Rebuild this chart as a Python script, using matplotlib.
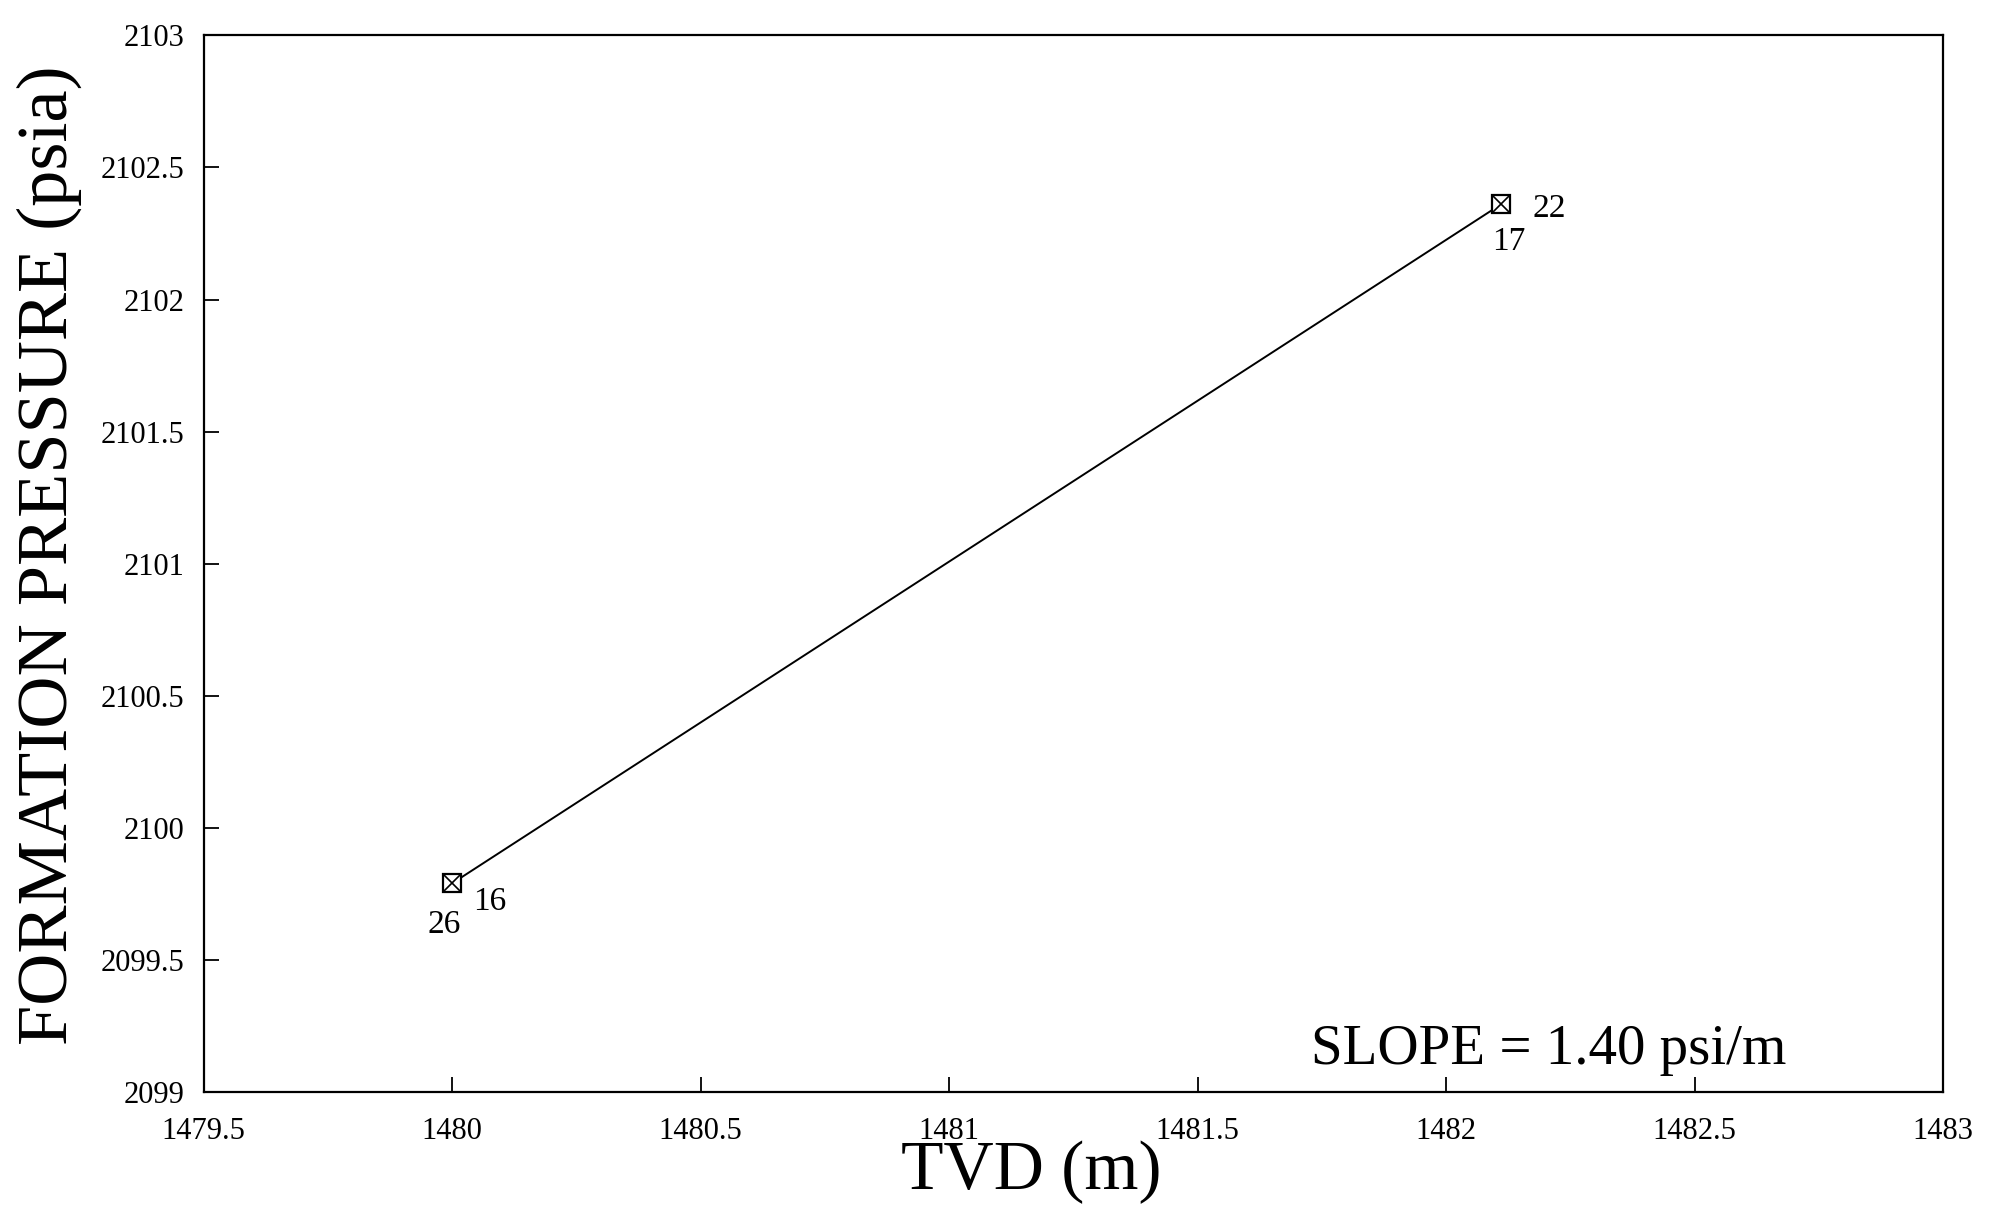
import matplotlib
matplotlib.use("Agg")
import matplotlib.pyplot as plt

# Data
tvd = [1480.0, 1482.11]
pressure = [2099.79, 2102.36]
xticks = [1479.5, 1480, 1480.5, 1481, 1481.5, 1482, 1482.5, 1483]
yticks = [2099, 2099.5, 2100, 2100.5, 2101, 2101.5, 2102, 2102.5, 2103]
xtick_labels = ['1479.5', '1480', '1480.5', '1481', '1481.5', '1482', '1482.5', '1483']
ytick_labels = ['2099', '2099.5', '2100', '2100.5', '2101', '2101.5', '2102', '2102.5', '2103']
# point labels: (text, point index, offset in points)
point_labels = [('16', 0, (27, -13)), ('26', 0, (-6, -30)),
                ('22', 1, (35, -3)), ('17', 1, (6, -27))]

plt.rcParams['font.family'] = ['Liberation Serif', 'DejaVu Serif']

fig = plt.figure(figsize=(19.98, 12.13), dpi=100)
ax = fig.add_axes([0.102, 0.0998, 0.8705, 0.871])

ax.plot(tvd, pressure, color='black', lw=1.4)
ax.plot(tvd, pressure, ls='none', marker='s', ms=13, mfc='white', mec='black', mew=1.6)
ax.plot(tvd, pressure, ls='none', marker='x', ms=11, mec='black', mew=1.2)

for txt, i, off in point_labels:
    ax.annotate(txt, (tvd[i], pressure[i]), xytext=off, textcoords='offset points',
                ha='center', va='center', fontsize=24)

ax.set_xlim(1479.5, 1483)
ax.set_ylim(2099, 2103)
ax.set_xticks(xticks)
ax.set_xticklabels(xtick_labels)
ax.set_yticks(yticks)
ax.set_yticklabels(ytick_labels)
ax.tick_params(direction='in', length=11, width=1.3, labelsize=22)
ax.tick_params(axis='x', pad=18)
ax.tick_params(axis='y', pad=14)
for s in ax.spines.values():
    s.set_linewidth(1.6)

ax.set_xlabel('TVD (m)', fontsize=50)
ax.xaxis.set_label_coords(0.476, -0.046)
ax.set_ylabel('FORMATION PRESSURE (psia)', fontsize=52)
ax.yaxis.set_label_coords(-0.07, 0.508)

ax.text(0.773, 0.026, 'SLOPE = 1.40 psi/m', transform=ax.transAxes,
        ha='center', va='baseline', fontsize=41)

fig.savefig('out.png', dpi=100)
